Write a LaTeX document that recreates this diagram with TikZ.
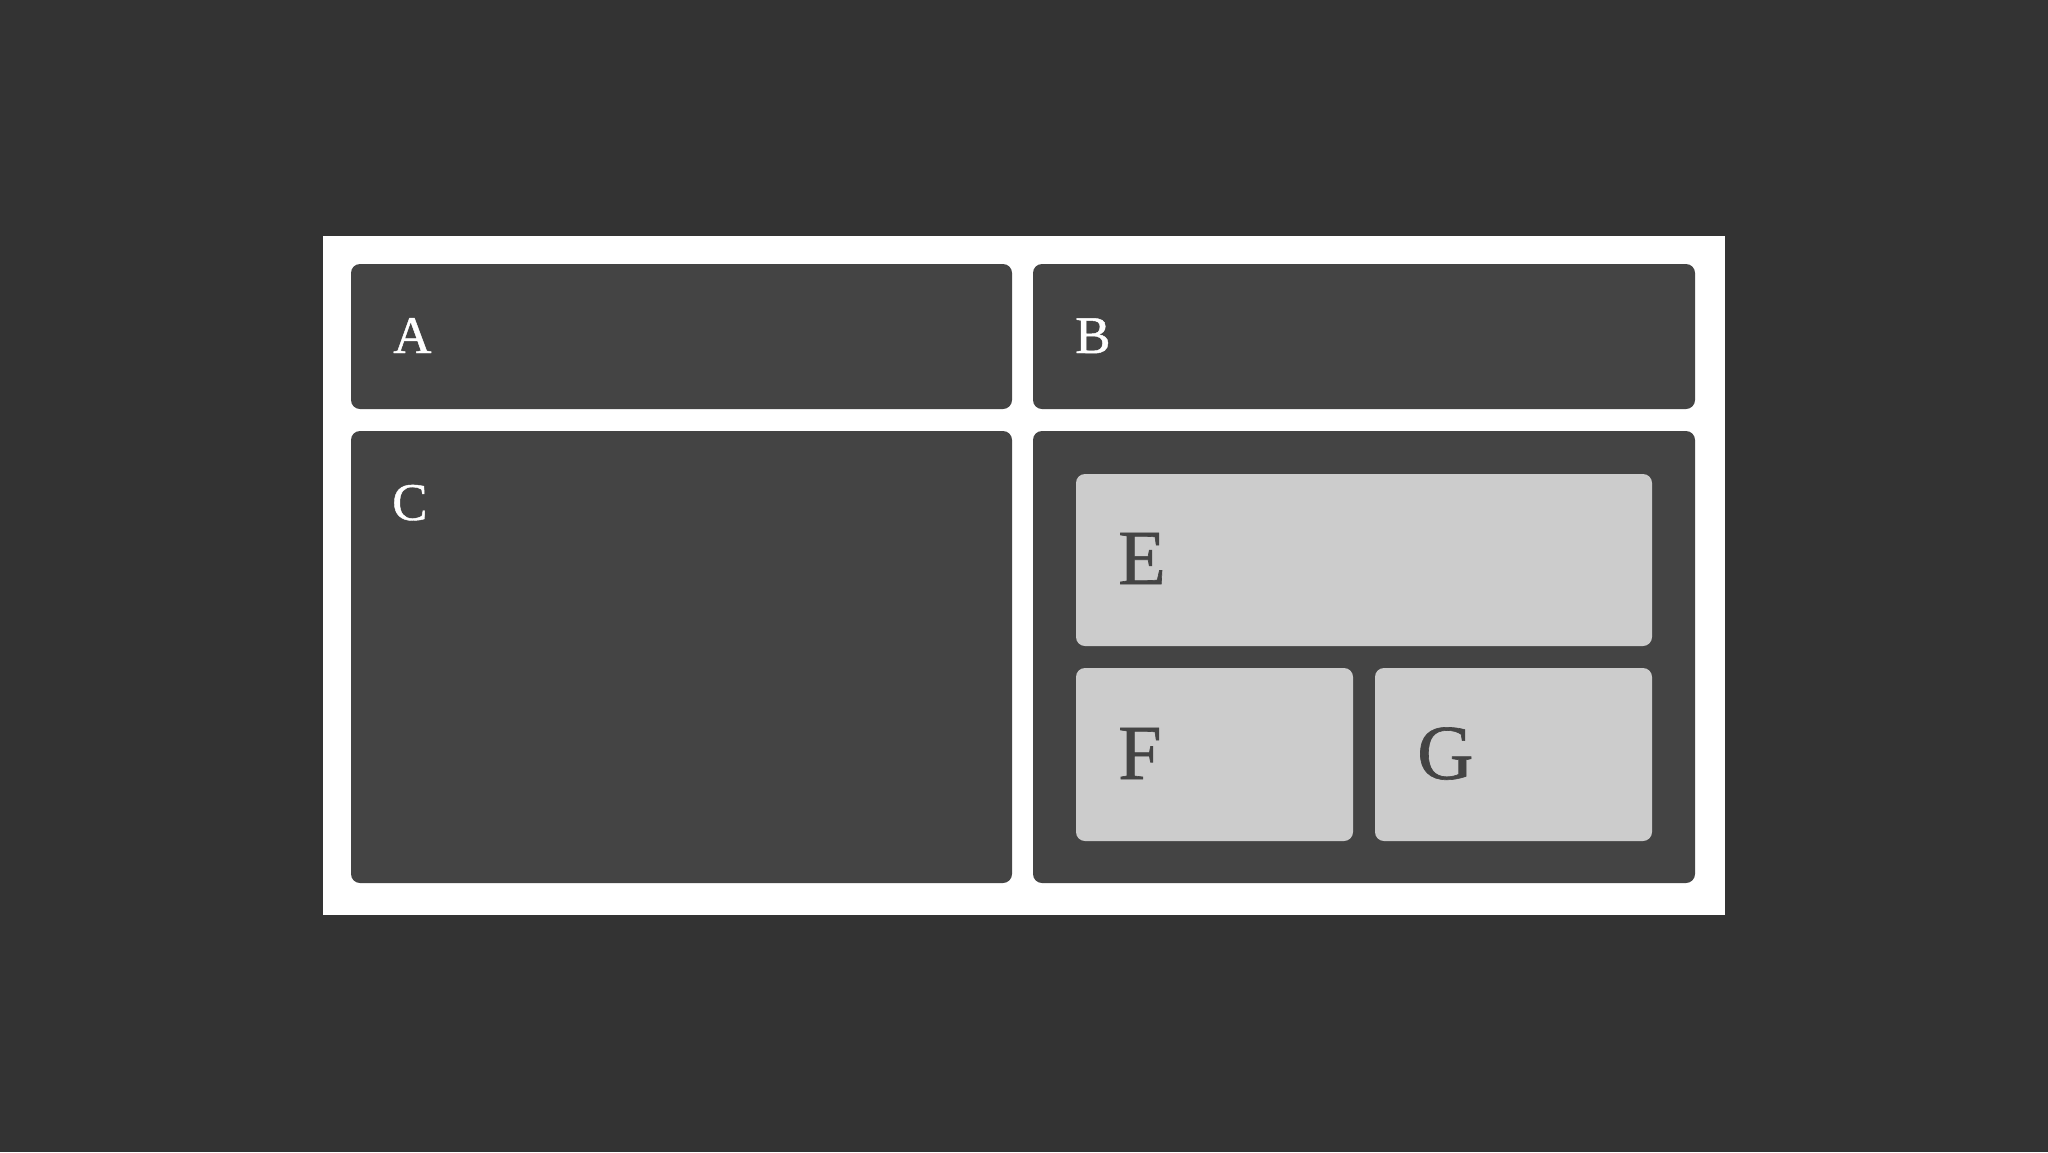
\documentclass[tikz,border=0pt]{standalone}
\usepackage{fontspec}
\setmainfont{Liberation Serif}
\newfontfamily\labelfont[FakeBold=0.8]{Liberation Serif}
\definecolor{bg}{HTML}{333333}
\definecolor{panel}{HTML}{444444}
\definecolor{tile}{HTML}{CCCCCC}
\tikzset{
  panelbox/.style={fill=panel, rounded corners=9pt},
  tilebox/.style={fill=tile, rounded corners=9pt},
  darklabel/.style={anchor=base west, inner sep=0pt, text=white, font=\labelfont\fontsize{53}{53}\selectfont},
  lightlabel/.style={anchor=base west, inner sep=0pt, text=panel, font=\labelfont\fontsize{78}{78}\selectfont},
}
\begin{document}
\begin{tikzpicture}[x=1pt,y=-1pt]
\useasboundingbox (0,0) rectangle (2048,1152);
\fill[bg] (0,0) rectangle (2048,1152);
\fill[white] (323,236) rectangle (1725,915);
% panels
\path[panelbox] (351,264) rectangle (1012,409);
\path[panelbox] (1033,264) rectangle (1695,409);
\path[panelbox] (351,431) rectangle (1012,883);
\path[panelbox] (1033,431) rectangle (1695,883);
% tiles
\path[tilebox] (1076,474) rectangle (1652,646);
\path[tilebox] (1076,668) rectangle (1353,841);
\path[tilebox] (1375,668) rectangle (1652,841);
% labels
\node[darklabel] (A) at (393,353) {A};
\node[darklabel] (B) at (1075,353) {B};
\node[darklabel] (C) at (392,520) {C};
\node[lightlabel] (E) at (1118,584) {E};
\node[lightlabel] (F) at (1118,779) {F};
\node[lightlabel] (G) at (1417,779) {G};
\end{tikzpicture}
\end{document}
